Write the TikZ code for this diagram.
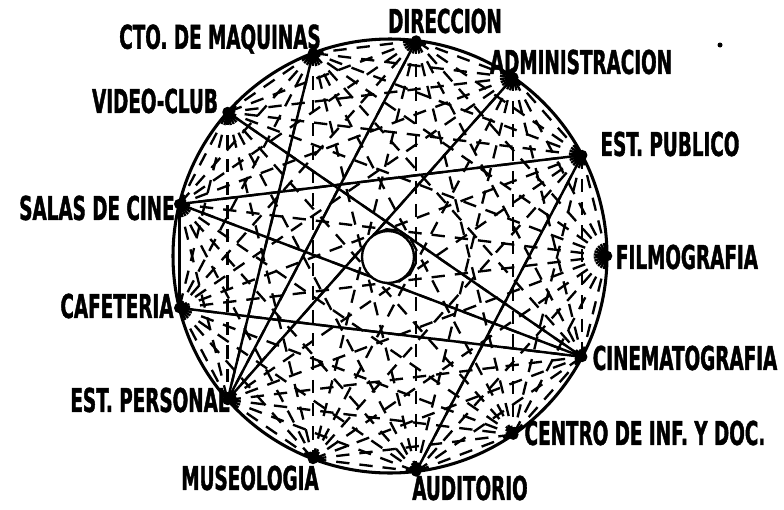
\documentclass[tikz,border=0pt]{standalone}
\usepackage{fontspec}
\newfontfamily\handfont[FakeStretch=0.56,FakeBold=1.2]{DejaVu Sans}
\usetikzlibrary{positioning}

\begin{document}
\begin{tikzpicture}[
    x=0.3mm, y=0.3mm,
    spot/.style={circle, fill, inner sep=0pt, minimum size=3.2mm},
    lbl/.style={font=\handfont\bfseries\fontsize{28}{28}\selectfont, inner sep=0pt},
    link/.style={line width=2.1pt},
    weak/.style={line width=2pt, dash pattern=on 4mm off 3mm}
]
    \useasboundingbox (-390,-253) rectangle (394,256);

    % Points on the circle
    \node[spot] (filmo)  at (0:217) {};
    \node[spot] (estpub) at (27.69:217) {};
    \node[spot] (admin)  at (55.38:217) {};
    \node[spot] (direc)  at (83.08:217) {};
    \node[spot] (cto)    at (110.77:217) {};
    \node[spot] (video)  at (138.46:217) {};
    \node[spot] (salas)  at (166.15:217) {};
    \node[spot] (cafe)   at (193.85:217) {};
    \node[spot] (estper) at (221.54:217) {};
    \node[spot] (museo)  at (249.23:217) {};
    \node[spot] (audit)  at (276.92:217) {};
    \node[spot] (centro) at (304.62:217) {};
    \node[spot] (cinema) at (332.31:217) {};

    % Every pair, dashed
    \foreach \a [count=\i] in {filmo,estpub,admin,direc,cto,video,salas,cafe,estper,museo,audit,centro,cinema} {
        \foreach \b [count=\j] in {filmo,estpub,admin,direc,cto,video,salas,cafe,estper,museo,audit,centro,cinema} {
            \ifnum\j>\i \draw[weak] (\a.center) -- (\b.center); \fi
        }
    }

    % Strong relations
    \draw[link] (salas.center) -- (estpub.center);
    \draw[link] (salas.center) -- (cinema.center);
    \draw[link] (salas.center) -- (cafe.center);
    \draw[link] (cafe.center) -- (cinema.center);
    \draw[link] (video.center) -- (cinema.center);
    \draw[link] (cto.center) -- (estper.center);
    \draw[link] (direc.center) -- (estper.center);
    \draw[link] (admin.center) -- (estper.center);
    \draw[link] (estpub.center) -- (audit.center);

    % Outer and inner circle
    \draw[line width=2.6pt] (0,0) circle (217);
    \draw[line width=2pt, fill=white] (-2,-1) circle (26);

    % Labels
    \node[lbl] (tcto)    at (-170,217) {CTO. DE MAQUINAS};
    \node[lbl] (tdirec)  at (55,235)   {DIRECCION};
    \node[lbl] (tadmin)  at (191,194)  {ADMINISTRACION};
    \node[lbl] (testpub) at (280,112)  {EST. PUBLICO};
    \node[lbl] (tfilmo)  at (297,-1)   {FILMOGRAFIA};
    \node[lbl] (tcinema) at (295,-102) {CINEMATOGRAFIA};
    \node[lbl] (tcentro) at (255,-177) {CENTRO DE INF. Y DOC.};
    \node[lbl] (taudit)  at (80,-232)  {AUDITORIO};
    \node[lbl] (tmuseo)  at (-140,-222) {MUSEOLOGIA};
    \node[lbl] (testper) at (-240,-144) {EST. PERSONAL};
    \node[lbl] (tcafe)   at (-273,-50) {CAFETERIA};
    \node[lbl] (tsalas)  at (-293,48)  {SALAS DE CINE};
    \node[lbl] (tvideo)  at (-235,155) {VIDEO-CLUB};

    \node[spot, minimum size=1.5mm] (mark) at (330,211) {};
\end{tikzpicture}
\end{document}
